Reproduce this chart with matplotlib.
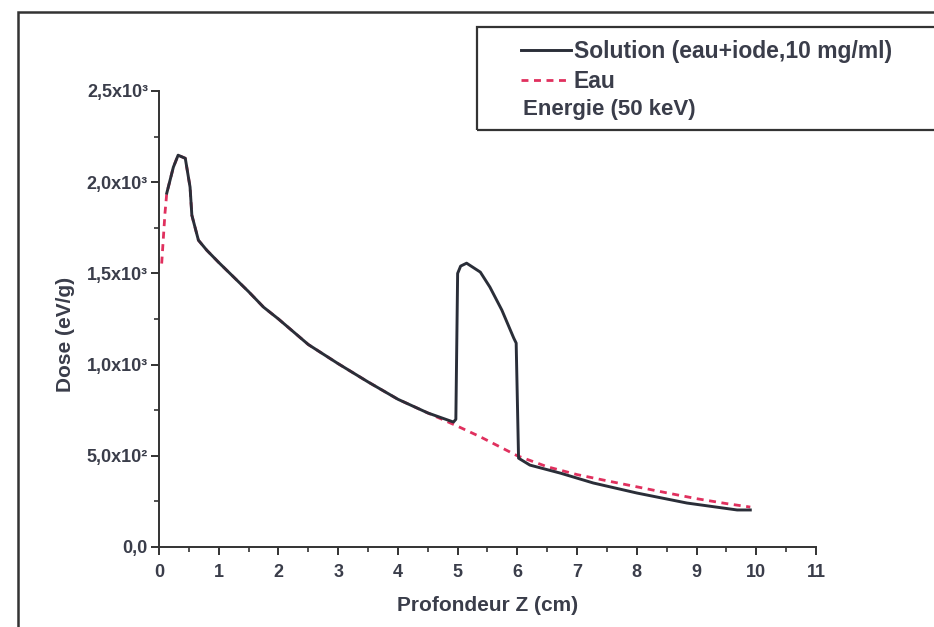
import matplotlib
matplotlib.use("Agg")
import matplotlib.pyplot as plt
from matplotlib.patches import Rectangle
from matplotlib.ticker import MultipleLocator, FixedLocator, FixedFormatter

# Eau (red dashed)
z_eau = [0.045, 0.10, 0.13, 0.24, 0.32, 0.44, 0.52, 0.55, 0.66, 0.80, 1.0, 1.25, 1.5,
         1.75, 2.0, 2.5, 3.0, 3.5, 4.0, 4.5, 5.0, 5.38, 6.0, 6.5, 7.0, 7.5, 8.0,
         8.5, 9.0, 9.5, 9.9]
dose_eau = [1554, 1830, 1940, 2082, 2148, 2131, 1973, 1819, 1682, 1627, 1560, 1480, 1400,
            1315, 1250, 1110, 1005, 905, 810, 735, 662, 604, 500, 440, 397, 363, 330,
            297, 265, 238, 219]

# Solution eau + iode 10 mg/ml (black)
z_sol = [0.13, 0.24, 0.32, 0.44, 0.52, 0.55, 0.66, 0.80, 1.0, 1.25, 1.5, 1.75, 2.0,
         2.5, 3.0, 3.5, 4.0, 4.5, 4.93, 4.97, 5.0, 5.05, 5.15, 5.38, 5.54, 5.74,
         5.94, 5.98, 6.02, 6.21, 6.72, 7.27, 8.0, 8.84, 9.68, 9.9]
dose_sol = [1940, 2082, 2148, 2131, 1973, 1819, 1682, 1627, 1560, 1480, 1400, 1315, 1250,
            1110, 1005, 905, 810, 735, 685, 700, 1500, 1540, 1556, 1507, 1425, 1299,
            1145, 1118, 487, 449, 405, 351, 296, 241, 203, 203]

y_ticks = [0, 500, 1000, 1500, 2000, 2500]
y_labels = ["0,0", "5,0x10²", "1,0x10³", "1,5x10³", "2,0x10³", "2,5x10³"]

txt = "#3a3d4a"
plt.rcParams["font.family"] = ["Liberation Sans", "DejaVu Sans"]
plt.rcParams["font.weight"] = "bold"

fig = plt.figure(figsize=(9.34, 6.27), dpi=100)
ax = fig.add_axes([159 / 934, 1 - 547 / 627, (816 - 159) / 934, (547 - 91) / 627])

ax.plot(z_sol, dose_sol, color="#2a2e38", lw=2.1, label="Solution (eau+iode,10 mg/ml)", zorder=3)
ax.plot(z_eau, dose_eau, color="#e0305e", lw=2.0, ls=(0, (2.5, 2)), label="Eau", zorder=2)

ax.set_xlim(0, 11)
ax.set_ylim(0, 2500)
ax.xaxis.set_major_locator(MultipleLocator(1))
ax.xaxis.set_minor_locator(MultipleLocator(0.5))
ax.yaxis.set_major_locator(FixedLocator(y_ticks))
ax.yaxis.set_major_formatter(FixedFormatter(y_labels))
ax.yaxis.set_minor_locator(MultipleLocator(250))

for s in ["top", "right"]:
    ax.spines[s].set_visible(False)
for s in ["left", "bottom"]:
    ax.spines[s].set_color("#333")
    ax.spines[s].set_linewidth(1.4)
ax.tick_params(which="major", length=6, width=1.4, color="#333", labelsize=13,
               labelcolor=txt, pad=2)
ax.tick_params(axis="x", which="major", pad=6)
ax.tick_params(which="minor", length=3.5, width=1.2, color="#333")
ax.set_xlabel("Profondeur Z (cm)", fontsize=15, fontweight="bold", color=txt, labelpad=11)
ax.set_ylabel("Dose (eV/g)", fontsize=15, fontweight="bold", color=txt)
ax.yaxis.set_label_coords(-0.128, (547 - 334) / 456)

# outer frame and legend box
fig.add_artist(Rectangle((18 / 934, -0.1), 1.2, 1.1 - 12 / 627, transform=fig.transFigure,
                         fill=False, lw=1.8, ec="#333"))
fig.add_artist(Rectangle((477 / 934, 1 - 130 / 627), 0.6, (130 - 27) / 627,
                         transform=fig.transFigure, fill=False, lw=1.6, ec="#333"))
leg = ax.legend(loc="upper left", bbox_to_anchor=(521 / 934, 1 - 40 / 627),
                bbox_transform=fig.transFigure, frameon=False, fontsize=16.5,
                handlelength=2.2, handletextpad=0.1, labelspacing=0.3, borderpad=0,
                borderaxespad=0)
for t in leg.get_texts():
    t.set_color(txt)
fig.text(523 / 934, 1 - 109 / 627, "Energie (50 keV)", fontsize=16, color=txt,
         va="center", ha="left")

fig.savefig("out.png", dpi=100)
plt.close(fig)
